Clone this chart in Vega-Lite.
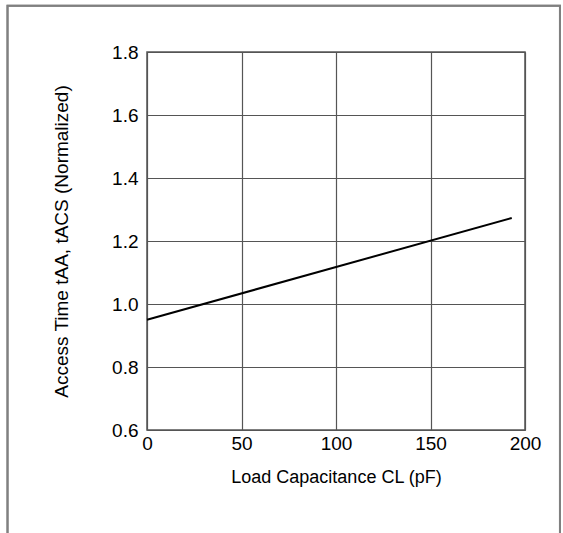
{
  "$schema": "https://vega.github.io/schema/vega-lite/v6.json",
  "autosize": {"type": "none"},
  "width": 378,
  "height": 378,
  "padding": {"left": 147, "top": 52, "right": 38, "bottom": 103},
  "background": "white",
  "config": {
    "view": {"stroke": "#555555", "strokeWidth": 1.5},
    "font": "Liberation Sans",
    "axis": {
      "labelFont": "Liberation Sans",
      "titleFont": "Liberation Sans",
      "labelColor": "black",
      "titleColor": "black",
      "titleFontWeight": "normal",
      "domain": false,
      "ticks": false,
      "grid": true,
      "gridColor": "#555555",
      "gridOpacity": 1,
      "gridWidth": 1.2,
      "labelFlush": false,
      "labelOverlap": false
    }
  },
  "data": {"values": [
    {"cl": 0, "t": 0.95},
    {"cl": 193, "t": 1.273}
  ]},
  "layer": [
    {
      "mark": {"type": "rect", "fill": null, "stroke": "#808080", "strokeWidth": 2, "clip": false},
      "encoding": {
        "x": {"datum": -73.8, "type": "quantitative"},
        "x2": {"datum": 218.5},
        "y": {"datum": 1.947, "type": "quantitative"},
        "y2": {"datum": 0.25}
      }
    },
    {
      "mark": {"type": "line", "color": "black", "strokeWidth": 2},
      "encoding": {
        "x": {
          "field": "cl",
          "type": "quantitative",
          "scale": {"domain": [0, 200], "nice": false, "zero": false},
          "axis": {
            "values": [0, 50, 100, 150, 200],
            "title": "Load Capacitance CL  (pF)",
            "labelFontSize": 19,
            "titleFontSize": 18,
            "labelPadding": 4,
            "titlePadding": 15
          }
        },
        "y": {
          "field": "t",
          "type": "quantitative",
          "scale": {"domain": [0.6, 1.8], "nice": false, "zero": false},
          "axis": {
            "values": [0.6, 0.8, 1.0, 1.2, 1.4, 1.6, 1.8],
            "format": ".1f",
            "title": "Access Time tAA, tACS (Normalized)",
            "labelFontSize": 19,
            "titleFontSize": 19,
            "labelPadding": 9,
            "titlePadding": 40
          }
        }
      }
    }
  ]
}
